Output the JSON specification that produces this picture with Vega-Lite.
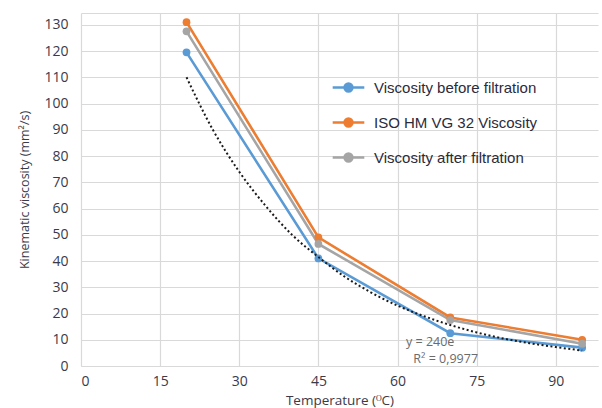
{
  "$schema": "https://vega.github.io/schema/vega-lite/v6.json",
  "autosize": {"type": "none"},
  "width": 517,
  "height": 353,
  "padding": {"left": 81, "top": 13, "right": 4, "bottom": 42},
  "background": "white",
  "config": {
    "view": {"stroke": null},
    "font": "Open Sans",
    "axis": {"labelFont": "Open Sans", "titleFont": "Open Sans", "labelColor": "#3a3a4a", "titleColor": "#3a3a4a", "gridColor": "#d9d9d9", "gridWidth": 1.2, "domainColor": "#d9d9d9", "tickSize": 0, "labelOverlap": false}
  },
  "datasets": {
    "series": [
      {"series": "Viscosity before filtration", "temp": 20, "visc": 119.5},
      {"series": "Viscosity before filtration", "temp": 45, "visc": 41},
      {"series": "Viscosity before filtration", "temp": 70, "visc": 12.5},
      {"series": "Viscosity before filtration", "temp": 95, "visc": 7},
      {"series": "ISO HM VG 32 Viscosity", "temp": 20, "visc": 131},
      {"series": "ISO HM VG 32 Viscosity", "temp": 45, "visc": 49},
      {"series": "ISO HM VG 32 Viscosity", "temp": 70, "visc": 18.5},
      {"series": "ISO HM VG 32 Viscosity", "temp": 95, "visc": 10},
      {"series": "Viscosity after filtration", "temp": 20, "visc": 127.5},
      {"series": "Viscosity after filtration", "temp": 45, "visc": 46.5},
      {"series": "Viscosity after filtration", "temp": 70, "visc": 17.5},
      {"series": "Viscosity after filtration", "temp": 95, "visc": 8.5}
    ],
    "trend": [
      {"temp": 20, "visc": 110},
      {"temp": 25, "visc": 90},
      {"temp": 30, "visc": 74},
      {"temp": 35, "visc": 61},
      {"temp": 40, "visc": 50},
      {"temp": 45, "visc": 41.5},
      {"temp": 50, "visc": 34},
      {"temp": 55, "visc": 28},
      {"temp": 60, "visc": 23},
      {"temp": 65, "visc": 19},
      {"temp": 70, "visc": 15.6},
      {"temp": 75, "visc": 12.8},
      {"temp": 80, "visc": 10.5},
      {"temp": 85, "visc": 8.7},
      {"temp": 90, "visc": 7.2},
      {"temp": 95, "visc": 5.9}
    ],
    "labels": [
      {"temp": 61.6, "visc": 9.2, "text": "y = 240e"},
      {"temp": 63.0, "visc": 2.7, "text": "R² = 0,9977"}
    ]
  },
  "encoding": {
    "x": {"field": "temp", "type": "quantitative",
          "scale": {"domain": [0, 98], "nice": false},
          "axis": {"values": [0, 15, 30, 45, 60, 75, 90], "title": "Temperature (ᴼC)", "labelFontSize": 14, "titleFontSize": 13.5, "titleFontWeight": "normal", "labelPadding": 8, "titlePadding": 5, "grid": true}},
    "y": {"field": "visc", "type": "quantitative",
          "scale": {"domain": [0, 134.5], "nice": false},
          "axis": {"values": [0, 10, 20, 30, 40, 50, 60, 70, 80, 90, 100, 110, 120, 130, 134.5], "labelExpr": "datum.value > 131 ? '' : datum.label", "title": "Kinematic viscosity (mm²/s)", "labelFontSize": 14, "titleFontSize": 12.5, "titleFontWeight": "normal", "labelPadding": 13, "titlePadding": 12, "domain": false}}
  },
  "layer": [
    {
      "data": {"name": "series"},
      "mark": {"type": "line", "strokeWidth": 2.6, "point": {"filled": true, "size": 60}},
      "encoding": {
        "color": {"field": "series", "type": "nominal",
                  "scale": {"domain": ["Viscosity before filtration", "ISO HM VG 32 Viscosity", "Viscosity after filtration"], "range": ["#5b9bd5", "#ed7d31", "#a5a5a5"]},
                  "legend": {"title": null, "orient": "none", "legendX": 250, "legendY": 57, "labelFontSize": 15, "labelColor": "#2b2b3b", "labelFont": "Liberation Sans", "labelLimit": 400, "rowPadding": 8, "symbolType": "M-1,0H1M-0.25,0A0.25,0.25,0,1,1,0.25,0A0.25,0.25,0,1,1,-0.25,0Z", "symbolSize": 1000, "symbolStrokeWidth": 2.5, "labelOffset": 8}},
        "order": {"field": "temp"}
      }
    },
    {
      "data": {"name": "trend"},
      "mark": {"type": "line", "color": "#1a1a1a", "strokeDash": [2, 2.5], "strokeWidth": 2, "interpolate": "monotone"},
      "encoding": {}
    },
    {
      "data": {"name": "labels"},
      "mark": {"type": "text", "align": "left", "baseline": "middle", "fontSize": 12.5, "color": "#6b6b6b", "font": "Open Sans"},
      "encoding": {
        "text": {"field": "text"}
      }
    }
  ]
}
